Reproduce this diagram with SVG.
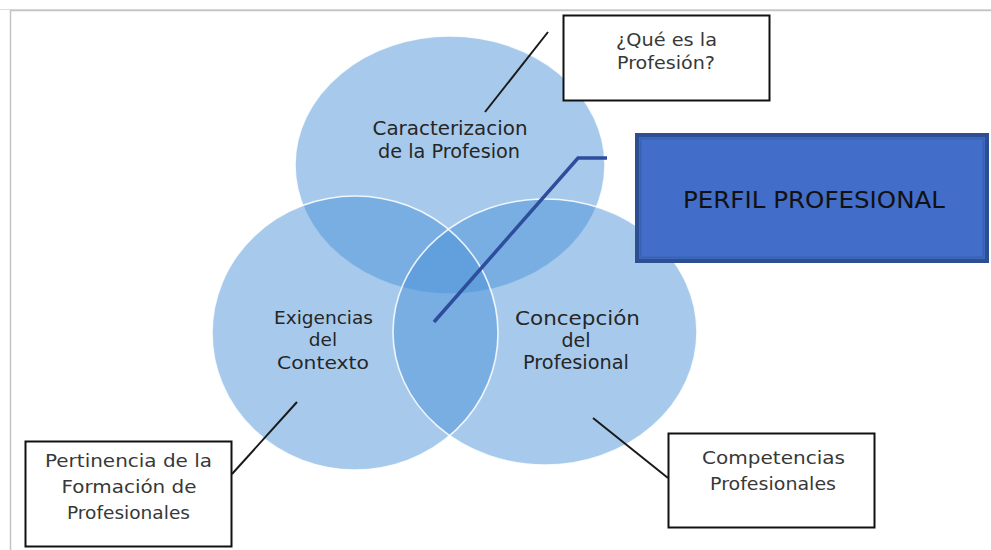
<svg xmlns="http://www.w3.org/2000/svg" width="991" height="550" viewBox="0 0 991 550">
<style>
.ell{fill:#4791d8;fill-opacity:0.48;stroke:none}
.rim{fill:none;stroke:#ffffff;stroke-width:1.6;stroke-opacity:0.85}
.ct{font-family:"DejaVu Sans","Liberation Sans",sans-serif;fill:#262626;text-anchor:middle}
.bt{font-family:"DejaVu Sans","Liberation Sans",sans-serif;fill:#383838;text-anchor:middle;font-size:18px}
.box{fill:#ffffff;stroke:#111111;stroke-width:2}
.lead{stroke:#1a1a1a;stroke-width:2;fill:none}
</style>
<rect x="0" y="0" width="991" height="550" fill="#ffffff"/>
<g id="frame">
<path d="M0 9.5 H991" stroke="#dddddd" stroke-width="1"/>
<path d="M10.5 550 V10.5 H991" stroke="#c4c4c4" stroke-width="1.5" fill="none"/>
</g>
<g id="venn">
<g id="circle-caracterizacion">
<ellipse class="ell" cx="450" cy="165" rx="155" ry="129"/>
<ellipse class="rim" cx="450" cy="165" rx="155" ry="129"/>
</g>
<g id="circle-exigencias">
<ellipse class="ell" cx="355" cy="333" rx="143" ry="137"/>
</g>
<g id="circle-concepcion">
<ellipse class="ell" cx="545" cy="332" rx="152" ry="133"/>
</g>
<ellipse class="rim" cx="355" cy="333" rx="143" ry="137"/>
<ellipse class="rim" cx="545" cy="332" rx="152" ry="133"/>
<text class="ct" font-size="19px"><tspan x="450" y="135" textLength="155" lengthAdjust="spacingAndGlyphs">Caracterizacion</tspan><tspan x="449" y="158" textLength="142" lengthAdjust="spacingAndGlyphs">de la Profesion</tspan></text>
<text class="ct" font-size="18.5px"><tspan x="323.5" y="324" textLength="99" lengthAdjust="spacingAndGlyphs">Exigencias</tspan><tspan x="323" y="346">del</tspan><tspan x="323" y="369" textLength="92" lengthAdjust="spacingAndGlyphs">Contexto</tspan></text>
<text class="ct" font-size="19px"><tspan x="577.5" y="325" textLength="125" lengthAdjust="spacingAndGlyphs">Concepción</tspan><tspan x="576" y="347">del</tspan><tspan x="576" y="369" textLength="106" lengthAdjust="spacingAndGlyphs">Profesional</tspan></text>
</g>
<g id="connectors">
<line class="lead" x1="548" y1="32" x2="485" y2="112"/>
<line class="lead" x1="232" y1="474" x2="297" y2="402"/>
<line class="lead" x1="593" y1="418" x2="668" y2="478"/>
<polyline points="434,322 578,158 607,158" fill="none" stroke="#2e4d9d" stroke-width="3.5" stroke-linejoin="miter"/>
</g>
<g id="box-que-es">
<rect class="box" x="563.5" y="15.5" width="206" height="85"/>
<text class="bt"><tspan x="666.5" y="46" textLength="101" lengthAdjust="spacingAndGlyphs">¿Qué es la</tspan><tspan x="666" y="69" textLength="98" lengthAdjust="spacingAndGlyphs">Profesión?</tspan></text>
</g>
<g id="box-perfil">
<rect x="637" y="135" width="350" height="126" fill="#426dc8" stroke="#2c4e93" stroke-width="4"/>
<rect x="640.5" y="138.5" width="343" height="119" fill="none" stroke="#3a62b4" stroke-width="2"/>
<text x="814" y="208" font-family="'DejaVu Sans','Liberation Sans',sans-serif" font-size="23.5px" fill="#111111" text-anchor="middle" textLength="262" lengthAdjust="spacingAndGlyphs">PERFIL PROFESIONAL</text>
</g>
<g id="box-pertinencia">
<rect class="box" x="25.5" y="441.5" width="206" height="105"/>
<text class="bt"><tspan x="128.5" y="467" textLength="167" lengthAdjust="spacingAndGlyphs">Pertinencia de la</tspan><tspan x="129" y="493" textLength="135" lengthAdjust="spacingAndGlyphs">Formación de</tspan><tspan x="128.5" y="519" textLength="123" lengthAdjust="spacingAndGlyphs">Profesionales</tspan></text>
</g>
<g id="box-competencias">
<rect class="box" x="668.5" y="433.5" width="206" height="94"/>
<text class="bt"><tspan x="773.5" y="464" textLength="143" lengthAdjust="spacingAndGlyphs">Competencias</tspan><tspan x="773" y="490" textLength="126" lengthAdjust="spacingAndGlyphs">Profesionales</tspan></text>
</g>
</svg>
